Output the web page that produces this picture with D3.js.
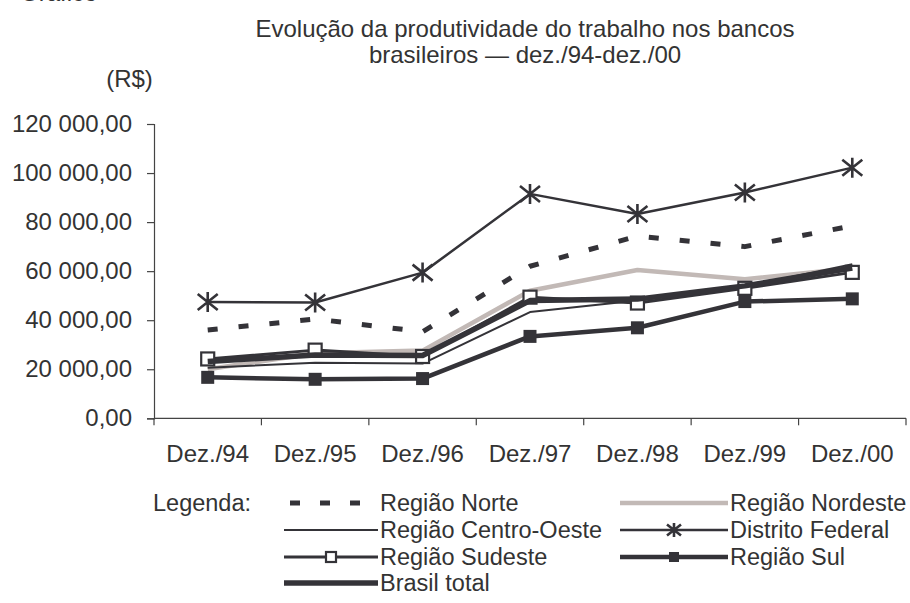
<!DOCTYPE html>
<html>
<head>
<meta charset="utf-8">
<script src="https://cdn.jsdelivr.net/npm/d3@7"></script>
<style>
  html, body { margin: 0; padding: 0; background: #fff; }
  svg text { font-family: "Liberation Sans", Arial, Helvetica, sans-serif; fill: #333; }
</style>
</head>
<body>
<svg id="chart" width="910" height="603"></svg>
<script>
const categories = ["Dez./94", "Dez./95", "Dez./96", "Dez./97", "Dez./98", "Dez./99", "Dez./00"];
const yTicks = [0, 20000, 40000, 60000, 80000, 100000, 120000];

const regiaoNorte        = [36000, 40500, 35300, 62000, 74300, 70000, 78500];
const regiaoNordeste     = [20000, 26500, 27600, 52000, 60500, 56700, 61200];
const regiaoCentroOeste  = [20600, 22700, 22300, 43300, 48000, 53700, 62800];
const distritoFederal    = [47400, 47200, 59400, 91500, 83300, 92100, 102200];
const regiaoSudeste      = [24200, 27800, 25200, 49400, 47000, 53000, 59500];
const regiaoSul          = [16700, 15900, 16200, 33400, 36900, 47600, 48700];
const brasilTotal        = [23200, 25800, 25600, 48000, 48600, 54000, 61300];

const titleLines = ["Evolução da produtividade do trabalho nos bancos", "brasileiros — dez./94-dez./00"];

const DARK = "#343338";
const GRAY = "#c2b9b6";

const series = [
  { name: "Região Norte", values: regiaoNorte, color: DARK, width: 5, dash: "10,21", marker: null, legend: [0, 0] },
  { name: "Região Nordeste", values: regiaoNordeste, color: GRAY, width: 4.5, dash: null, marker: null, legend: [1, 0] },
  { name: "Região Centro-Oeste", values: regiaoCentroOeste, color: DARK, width: 2, dash: null, marker: null, legend: [0, 1] },
  { name: "Distrito Federal", values: distritoFederal, color: DARK, width: 2.5, dash: null, marker: "star", legend: [1, 1] },
  { name: "Região Sudeste", values: regiaoSudeste, color: DARK, width: 3, dash: null, marker: "open", legend: [0, 2] },
  { name: "Região Sul", values: regiaoSul, color: DARK, width: 4.5, dash: null, marker: "filled", legend: [1, 2] },
  { name: "Brasil total", values: brasilTotal, color: DARK, width: 5.5, dash: null, marker: null, legend: [0, 3] }
];

const svg = d3.select("#chart");
const FS = 24;
const LFS = 23.5;

const x = d3.scaleBand().domain(categories).range([154, 906]).padding(0);
const y = d3.scaleLinear().domain([0, 120000]).range([418.3, 124]);

const loc = d3.formatLocale({ decimal: ",", thousands: " ", grouping: [3], currency: ["R$", ""] });
const fmt = loc.format(",.2f");

// partial heading at very top (cropped in the original)
svg.append("text").attr("x", 20).attr("y", 0.5).style("font-size", FS + "px").text("Gráfico");

// title
svg.append("g").selectAll("text").data(titleLines).join("text")
  .attr("x", 525).attr("y", (d, i) => 37 + i * 26)
  .attr("text-anchor", "middle").style("font-size", "24px").text(d => d);

svg.append("text").attr("x", 129.5).attr("y", 87).attr("text-anchor", "middle")
  .style("font-size", FS + "px").text("(R$)");

// y axis
const yAxis = d3.axisLeft(y).tickValues(yTicks).tickSize(7).tickPadding(15).tickFormat(fmt);
const gy = svg.append("g").attr("transform", "translate(154,0)").call(yAxis);
gy.select(".domain").attr("stroke", "#444").attr("stroke-width", 1.2);
gy.selectAll(".tick line").attr("stroke", "#444").attr("stroke-width", 1.2);
gy.selectAll(".tick text").style("font-size", FS + "px").attr("fill", "#333")
  .style("font-family", "'Liberation Sans', Arial, sans-serif");

// x axis (ticks at band boundaries)
const gx = svg.append("g").attr("transform", "translate(0," + y(0) + ")");
gx.append("line").attr("x1", x.range()[0]).attr("x2", x.range()[1]).attr("stroke", "#444").attr("stroke-width", 1.2);
const edges = categories.map(c => x(c)).concat([x.range()[1]]);
gx.selectAll("line.tk").data(edges).join("line").attr("class", "tk")
  .attr("x1", d => d).attr("x2", d => d).attr("y1", 0).attr("y2", 7)
  .attr("stroke", "#444").attr("stroke-width", 1.2);
gx.selectAll("text").data(categories).join("text")
  .attr("x", d => x(d) + x.bandwidth() / 2).attr("y", 44)
  .attr("text-anchor", "middle").style("font-size", FS + "px").text(d => d);

const cx = c => x(c) + x.bandwidth() / 2;
const line = d3.line().x((d, i) => cx(categories[i])).y(d => y(d));

function drawMarker(g, type, px, py, s, color) {
  if (type === "star") {
    const h = s / 2;
    g.append("path").attr("d",
      `M${px},${py - h}L${px},${py + h}M${px - h},${py - h * 0.8}L${px + h},${py + h * 0.8}M${px - h},${py + h * 0.8}L${px + h},${py - h * 0.8}`)
      .attr("stroke", color).attr("stroke-width", 2.6).attr("fill", "none");
  } else if (type === "open") {
    g.append("rect").attr("x", px - s / 2).attr("y", py - s / 2).attr("width", s).attr("height", s)
      .attr("fill", "#fff").attr("stroke", color).attr("stroke-width", 2.2);
  } else if (type === "filled") {
    g.append("rect").attr("x", px - s / 2).attr("y", py - s / 2).attr("width", s).attr("height", s)
      .attr("fill", color).attr("stroke", "none");
  }
}

const plot = svg.append("g");
series.forEach(s => {
  const g = plot.append("g");
  g.append("path").datum(s.values).attr("d", line)
    .attr("fill", "none").attr("stroke", s.color).attr("stroke-width", s.width)
    .attr("stroke-dasharray", s.dash).attr("stroke-linejoin", "round");
  if (s.marker) {
    s.values.forEach((v, i) => drawMarker(g, s.marker, cx(categories[i]), y(v), s.marker === "star" ? 20 : 13, s.color));
  }
});

// legend
const lg = svg.append("g");
lg.append("text").attr("x", 153).attr("y", 511).style("font-size", LFS + "px").text("Legenda:");
const colX = [[284, 378], [620, 728]];
const rowY = [503, 530, 557, 583];
series.forEach(s => {
  const [c, r] = s.legend;
  const [x1, x2] = colX[c];
  const yy = rowY[r];
  lg.append("line").attr("x1", x1).attr("x2", x2).attr("y1", yy).attr("y2", yy)
    .attr("stroke", s.color).attr("stroke-width", s.width)
    .attr("stroke-dasharray", s.dash ? "10,20" : null)
    .attr("stroke-dashoffset", s.dash ? 24 : null);
  if (s.marker) drawMarker(lg, s.marker, (x1 + x2) / 2, yy, s.marker === "star" ? 14 : 10, s.color);
  lg.append("text").attr("x", x2 + 2).attr("y", yy + 8).style("font-size", LFS + "px").text(s.name);
});
</script>
</body>
</html>
